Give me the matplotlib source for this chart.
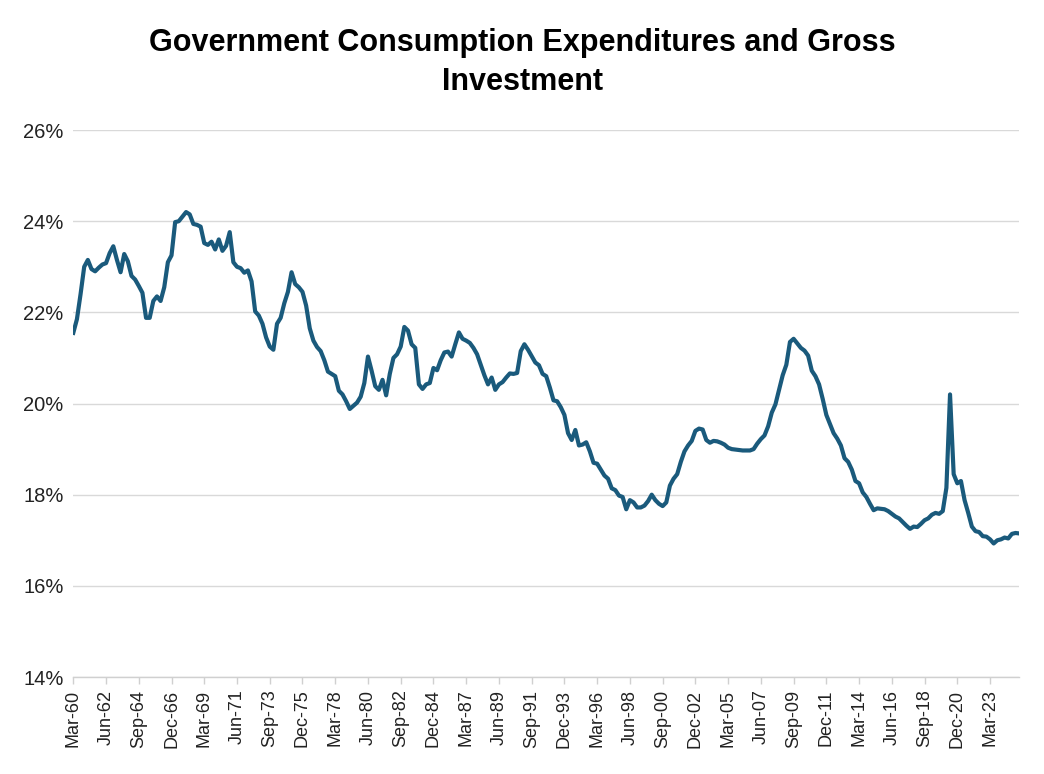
import numpy as np
import matplotlib.pyplot as plt

# quarterly values, Mar-60 .. Mar-25 (% of GDP)
share = [
    21.55, 21.85, 22.4, 23.0, 23.15, 22.95, 22.9, 22.98, 23.05, 23.08,
    23.3, 23.45, 23.15, 22.88, 23.28, 23.12, 22.8, 22.72, 22.58, 22.43,
    21.88, 21.88, 22.25, 22.35, 22.25, 22.55, 23.1, 23.25, 23.98, 24.0,
    24.1, 24.2, 24.15, 23.94, 23.92, 23.88, 23.52, 23.48, 23.55, 23.38,
    23.6, 23.35, 23.46, 23.76, 23.1, 23.0, 22.97, 22.87, 22.92, 22.68,
    22.02, 21.93, 21.75, 21.45, 21.25, 21.18, 21.75, 21.88, 22.2, 22.45,
    22.88, 22.62, 22.55, 22.45, 22.15, 21.65, 21.38, 21.24, 21.15, 20.95,
    20.7, 20.65, 20.6, 20.28, 20.2, 20.05, 19.88, 19.95, 20.02, 20.15,
    20.45, 21.03, 20.72, 20.38, 20.3, 20.52, 20.18, 20.65, 21.0, 21.08,
    21.25, 21.68, 21.6, 21.3, 21.22, 20.42, 20.32, 20.42, 20.45, 20.78,
    20.73, 20.95, 21.12, 21.14, 21.03, 21.3, 21.56, 21.42, 21.38, 21.33,
    21.22, 21.08, 20.85, 20.62, 20.42, 20.57, 20.3, 20.42, 20.47, 20.57,
    20.66, 20.65, 20.67, 21.15, 21.3, 21.18, 21.04, 20.9, 20.84, 20.65,
    20.6, 20.35, 20.07, 20.05, 19.92, 19.75, 19.35, 19.2, 19.42, 19.08,
    19.1, 19.15, 18.95, 18.7, 18.68, 18.55, 18.42, 18.35, 18.14, 18.1,
    17.98, 17.95, 17.68, 17.88, 17.83, 17.72, 17.72, 17.76, 17.86, 18.0,
    17.88, 17.8, 17.75, 17.83, 18.2, 18.35, 18.45, 18.72, 18.95, 19.08,
    19.18, 19.4, 19.45, 19.43, 19.2, 19.14, 19.18, 19.17, 19.14, 19.1,
    19.03, 19.0, 18.99, 18.98, 18.97, 18.97, 18.97, 19.0, 19.12, 19.22,
    19.3, 19.5, 19.8, 19.98, 20.3, 20.62, 20.85, 21.35, 21.42, 21.32,
    21.22, 21.16, 21.05, 20.72, 20.6, 20.42, 20.1, 19.75, 19.55, 19.35,
    19.23, 19.08, 18.8, 18.72, 18.55, 18.3, 18.25, 18.05, 17.95, 17.8,
    17.66, 17.7, 17.69, 17.68, 17.64, 17.58, 17.52, 17.48, 17.4, 17.32,
    17.25, 17.3, 17.29, 17.36, 17.44, 17.48, 17.56, 17.6, 17.58, 17.64,
    18.15, 20.2, 18.45, 18.25, 18.3, 17.88, 17.6, 17.3, 17.2, 17.18,
    17.09, 17.08, 17.02, 16.93, 17.0, 17.02, 17.06, 17.04, 17.14, 17.16,
    17.15,
]
months = ["Mar", "Jun", "Sep", "Dec"]
quarters = [f"{months[k % 4]}-{(1960 + k // 4) % 100:02d}" for k in range(len(share))]
y_ticks = [14, 16, 18, 20, 22, 24, 26]

plt.rcParams['font.family'] = ['Liberation Sans', 'DejaVu Sans']

fig = plt.figure(figsize=(10.44, 7.74), dpi=100)
ax = fig.add_axes([0.0702, 0.1253, 0.906, 0.7067])

x = np.arange(len(share))
ax.plot(x, share, color="#1a5a7c", lw=3.0, solid_joinstyle="round", zorder=3)

ax.set_xlim(0, len(share) - 1)
ax.set_ylim(14, 26)
ax.set_yticks(y_ticks)
ax.set_yticklabels([f"{v}%" for v in y_ticks], fontsize=14.5, color="#222222")
ax.set_xticks(x[::9])
ax.set_xticklabels(quarters[::9], rotation=90, fontsize=13, color="#222222")
ax.tick_params(axis="y", length=0, pad=7)
ax.tick_params(axis="x", length=5, width=1, color="#d0d0d0", pad=4)

ax.grid(axis="y", color="#d9d9d9", lw=1)
ax.set_axisbelow(True)
for s in ["left", "right", "top"]:
    ax.spines[s].set_visible(False)
ax.spines["bottom"].set_color("#d0d0d0")
ax.spines["bottom"].set_linewidth(1)

fig.text(0.5, 0.964, "Government Consumption Expenditures and Gross\nInvestment",
         ha="center", va="top", fontsize=22, fontweight="bold", linespacing=1.38)

fig.savefig("out.png", dpi=100)
